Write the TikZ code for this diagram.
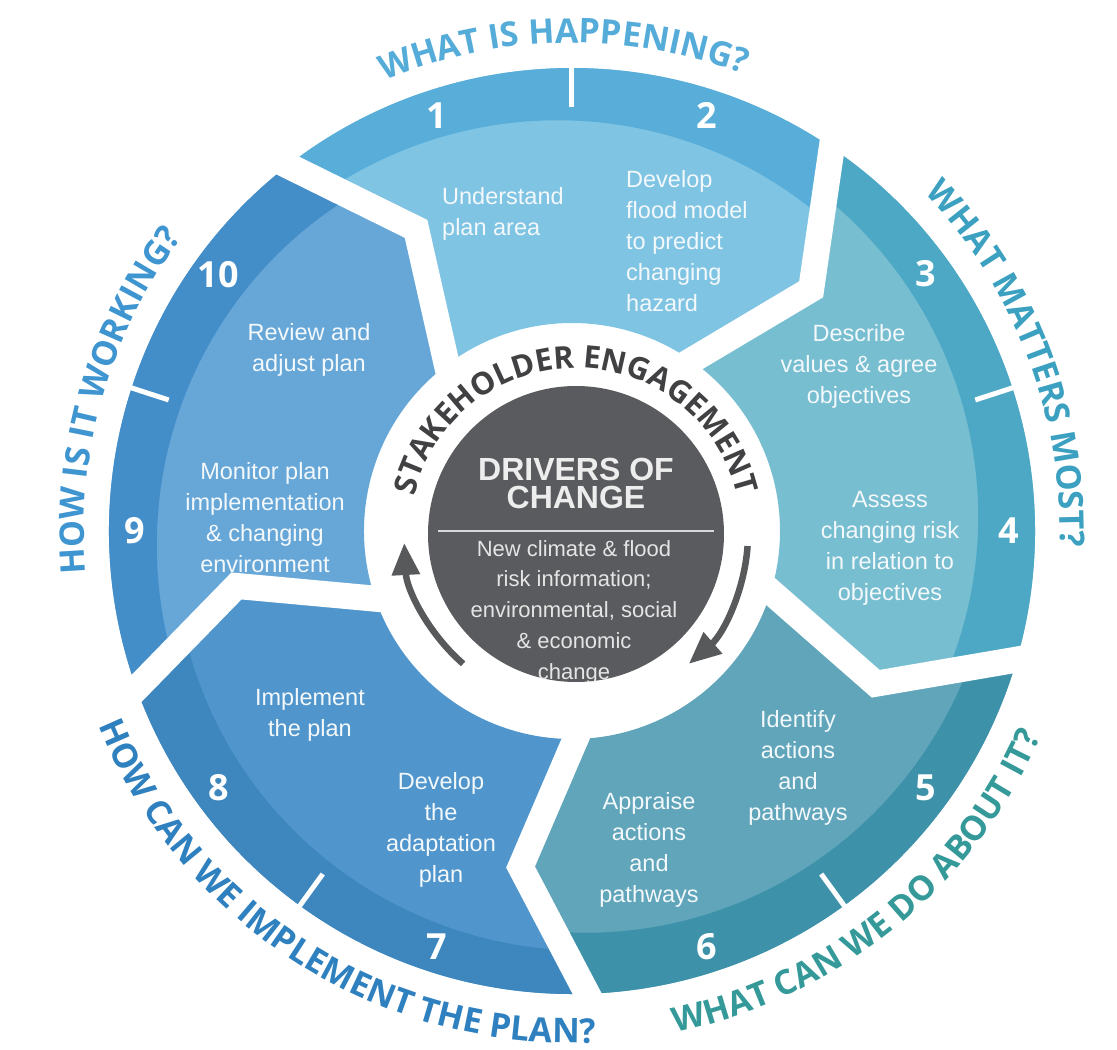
\documentclass[tikz,border=0pt]{standalone}
\usepackage{fontspec}
\setmainfont{Liberation Sans}
\newfontfamily\osans{Open Sans}
\usetikzlibrary{decorations.text,arrows.meta}

\definecolor{aBand}{HTML}{58AED8}
\definecolor{aLight}{HTML}{80C4E4}
\definecolor{bBand}{HTML}{4CA8C5}
\definecolor{bLight}{HTML}{78BED1}
\definecolor{cBand}{HTML}{3D92AA}
\definecolor{cLight}{HTML}{60A5BA}
\definecolor{dBand}{HTML}{3D87BE}
\definecolor{dLight}{HTML}{5096CC}
\definecolor{eBand}{HTML}{438DC9}
\definecolor{eLight}{HTML}{67A7D8}
\definecolor{hubGray}{HTML}{5A5B5E}
\definecolor{arrowGray}{HTML}{58595B}
\definecolor{ringText}{HTML}{414143}
\definecolor{stepText}{HTML}{F3F8FB}
\definecolor{qA}{HTML}{55ACD9}
\definecolor{qB}{HTML}{3CA0C0}
\definecolor{qC}{HTML}{35999A}
\definecolor{qD}{HTML}{2F80BF}
\definecolor{qE}{HTML}{3F95D0}

\newcommand\qfont{\osans\bfseries\fontsize{34}{34}\selectfont}
\newcommand\ringfont{\osans\bfseries\fontsize{31}{31}\selectfont}

\newcommand\segpath[2]{(#1:463) arc[start angle=#1, end angle=#2, radius=463] -- ({#2-10.7}:340) -- ({#2-1}:208) arc[start angle={#2-1}, end angle={#1-1}, radius=208] -- ({#1-10.7}:340) -- cycle}

\newcommand\drawseg[4]{%
  \pgfmathsetmacro\segA{#1+12}%
  \pgfmathsetmacro\segB{#2-12}%
  \fill[#3] \segpath{#1}{#2};
  \begin{scope}
    \clip \segpath{#1}{#2};
    \fill[#4] plot[domain=\segA:\segB, samples=60] (\x:{420-18*(#1-\x)/72}) -- (\segB:540) arc[start angle=\segB, end angle=\segA, radius=540] -- cycle;
  \end{scope}}

\newcommand\gapline[1]{\draw[white, line width=26pt, line join=miter] ({#1+1.5}:492) -- ({#1-10.7}:340) -- ({#1+2.9}:181);}

\tikzset{
  steptext/.style={text=stepText, font=\fontsize{23.5}{31}\selectfont, align=center, inner sep=0pt},
  stepleft/.style={steptext, align=left, anchor=west},
  numstyle/.style={text=white, font=\osans\bfseries\fontsize{36}{36}\selectfont, inner sep=0pt},
  tickline/.style={white, line width=5pt},
  hubtitle/.style={text=white!93!black, font=\bfseries\fontsize{32}{28}\selectfont, align=center, inner sep=0pt},
  hubbody/.style={text=white!90!black, font=\fontsize{22}{30.7}\selectfont, align=center, inner sep=0pt},
  cyclearrow/.style={arrowGray, line width=6.5pt, -{Triangle[length=32pt,width=27pt]}}
}

\begin{document}
\begin{tikzpicture}[x=1pt,y=1pt]
\useasboundingbox (-572,-519) rectangle (545,531);

% segments
\drawseg{128}{56}{aLight}{aBand}
\drawseg{56}{-16}{bLight}{bBand}
\drawseg{-16}{-88}{cLight}{cBand}
\drawseg{-88}{-160}{dLight}{dBand}
\drawseg{200}{128}{eLight}{eBand}

% gaps
\gapline{128}
\gapline{56}
\gapline{-16}
\gapline{-88}
\gapline{-160}

% ticks
\foreach \t in {90,18,-54,-126,-198}
  \draw[tickline] (\t:424) -- (\t:472);

% numbers
\node[numstyle] (n1) at (108:437) {1};
\node[numstyle] (n2) at (72:437) {2};
\node[numstyle] (n3) at (36:437) {3};
\node[numstyle] (n4) at (0:437) {4};
\node[numstyle] (n5) at (-36:437) {5};
\node[numstyle] (n6) at (-72:437) {6};
\node[numstyle] (n7) at (-108:437) {7};
\node[numstyle] (n8) at (-144:437) {8};
\node[numstyle] (n9) at (180:437) {9};
\node[numstyle] (n10) at (144:437) {10};

% step texts
\node[stepleft] (s1) at (-130,317) {Understand\\plan area};
\node[stepleft] (s2) at (54,290) {Develop\\flood model\\to predict\\changing\\hazard};
\node[steptext] (s3) at (287,165) {Describe\\values \& agree\\objectives};
\node[steptext] (s4) at (318,-17) {Assess\\changing risk\\in relation to\\objectives};
\node[steptext] (s5) at (226,-237) {Identify\\actions\\and\\pathways};
\node[steptext] (s6) at (77,-319) {Appraise\\actions\\and\\pathways};
\node[steptext] (s7) at (-131,-299) {Develop\\the\\adaptation\\plan};
\node[steptext] (s8) at (-262,-184) {Implement\\the plan};
\node[steptext] (s9) at (-307,13) {Monitor plan\\implementation\\\& changing\\environment};
\node[steptext] (s10) at (-263,181) {Review and\\adjust plan};

% hub
\begin{scope}[shift={(4,-3)}]
  \fill[hubGray] (0,0) circle[radius=148];
  \draw[white!85!black, line width=2.2pt] (-138,3) -- (138,3);
  \node[hubtitle] (hubt) at (0,51) {DRIVERS OF\\CHANGE};
  \begin{scope}
    \clip (0,0) circle[radius=148];
    \node[hubbody] (hubb) at (-2,-78) {New climate \& flood\\risk information;\\environmental, social\\\& economic\\change};
  \end{scope}
  \path[decorate, decoration={text along path, text align=center, text color=ringText,
      text={|\ringfont|STAKEHOLDER ENGAGEMENT}}]
      (178:166) arc[start angle=178, end angle=2, radius=166];
  \draw[cyclearrow] (229:172) arc[start angle=229, end angle=183, radius=172];
  \draw[cyclearrow] (-4:172) arc[start angle=-4, end angle=-49, radius=172];
\end{scope}

% outer questions
\path[decorate, decoration={text along path, text align=center, text color=qA,
    text={|\qfont|WHAT IS HAPPENING?}}]
    (131:488) arc[start angle=131, end angle=51, radius=488];
\path[decorate, decoration={text along path, text align=center, text color=qB,
    text={|\qfont|WHAT MATTERS MOST?}}]
    (61:488) arc[start angle=61, end angle=-19, radius=488];
\path[decorate, decoration={text along path, text align=center, text color=qC,
    text={|\qfont|WHAT CAN WE DO ABOUT IT?}}]
    (266:512) arc[start angle=266, end angle=352, radius=512];
\path[decorate, decoration={text along path, text align=center, text color=qD,
    text={|\qfont|HOW CAN WE IMPLEMENT THE PLAN?}}]
    (190:512) arc[start angle=190, end angle=285, radius=512];
\path[decorate, decoration={text along path, text align=center, text color=qE,
    text={|\qfont|HOW IS IT WORKING?}}]
    (204:488) arc[start angle=204, end angle=124, radius=488];
\end{tikzpicture}
\end{document}
